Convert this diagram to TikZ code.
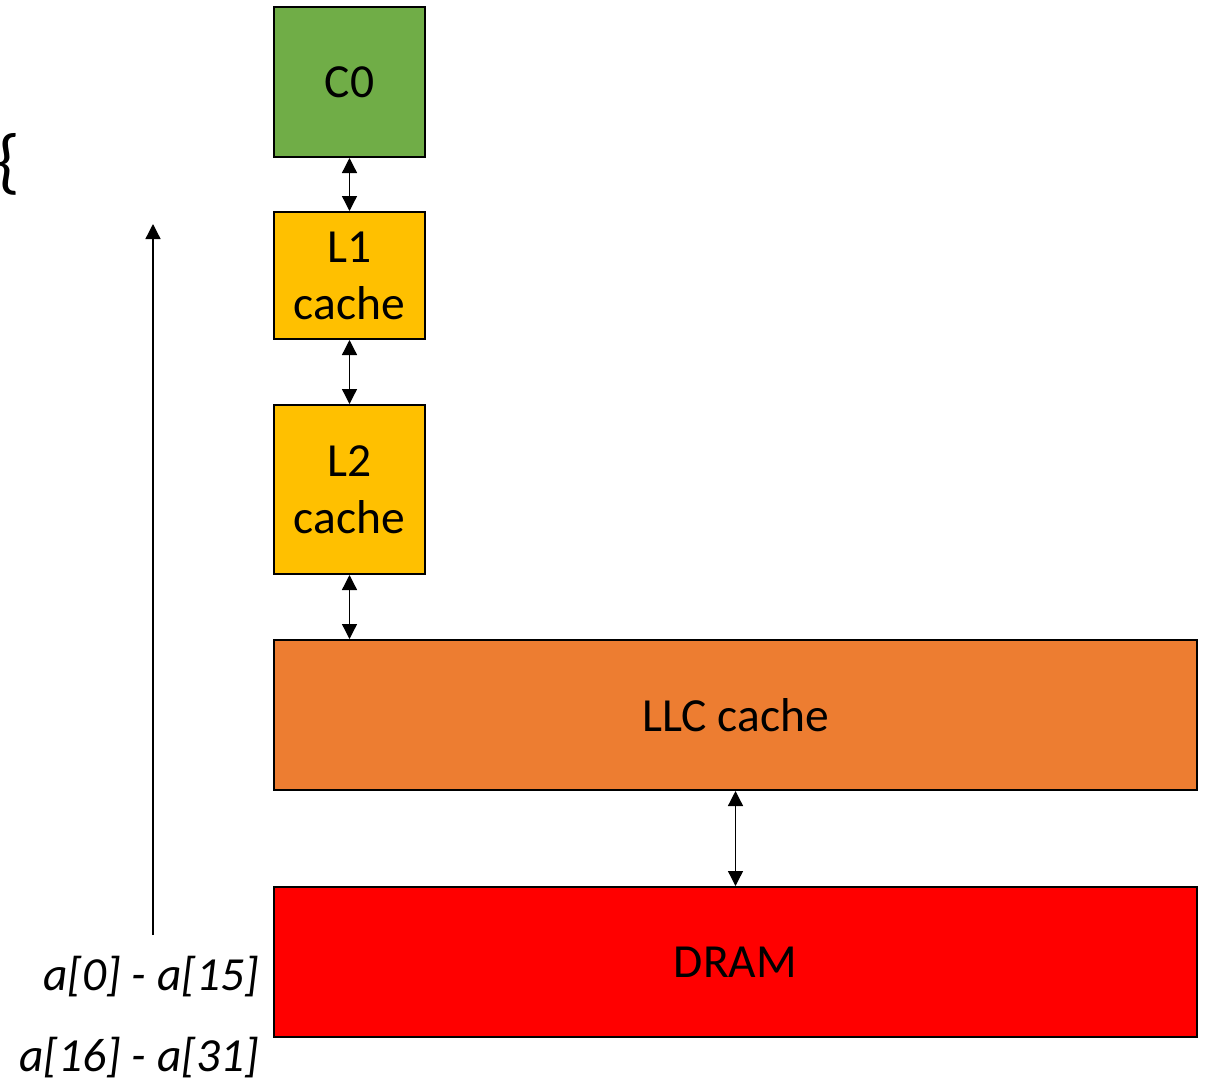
\documentclass[tikz,border=0pt]{standalone}
\usepackage{fontspec}
\setmainfont{Carlito}
\usetikzlibrary{arrows.meta}
\definecolor{cgreen}{HTML}{70AD47}
\definecolor{cyellow}{HTML}{FFC000}
\definecolor{corange}{HTML}{ED7D31}
\definecolor{cred}{HTML}{FF0000}
\tikzset{
  box/.style={draw=black, line width=2pt, inner sep=0pt, align=center,
    font=\fontsize{47.5}{57}\selectfont},
  conn/.style={line width=1.3pt, {Triangle[width=15pt,length=15pt]}-{Triangle[width=15pt,length=15pt]}},
  lbl/.style={inner sep=0pt, font=\fontsize{47.5}{57}\selectfont\itshape},
}
\begin{document}
\begin{tikzpicture}[x=1pt,y=-1pt]
\useasboundingbox (0,0) rectangle (1207,1082);
\node[box, fill=cgreen, minimum width=151pt, minimum height=150pt] (c0) at (349.5,82) {C0};
\node[box, fill=cyellow, minimum width=151pt, minimum height=127pt] (l1) at (349.5,275.5) {L1\\cache};
\node[box, fill=cyellow, minimum width=151pt, minimum height=169pt] (l2) at (349.5,489.5) {L2\\cache};
\node[box, fill=corange, minimum width=923pt, minimum height=150pt] (llc) at (735.5,715) {LLC cache};
\node[box, fill=cred, minimum width=923pt, minimum height=150pt] (dram) at (735.5,962) {DRAM};
\draw[conn] (c0.south) -- (l1.north);
\draw[conn] (l1.south) -- (l2.north);
\draw[conn] (l2.south) -- (l2.south |- llc.north);
\draw[conn] (llc.south) -- (dram.north);
\coordinate (ab) at (153,935);
\coordinate (at) at (153,224);
\draw[line width=1.3pt, -{Triangle[width=15pt,length=15pt]}] (ab) -- (at);
\node[inner sep=0pt, anchor=west, font=\fontsize{72}{76}\selectfont] (brace) at (-3,164) {\{};
\node[lbl, anchor=base east] (r1) at (259,990) {a[0] - a[15]};
\node[lbl, anchor=base east] (r2) at (259,1071) {a[16] - a[31]};
\end{tikzpicture}
\end{document}
